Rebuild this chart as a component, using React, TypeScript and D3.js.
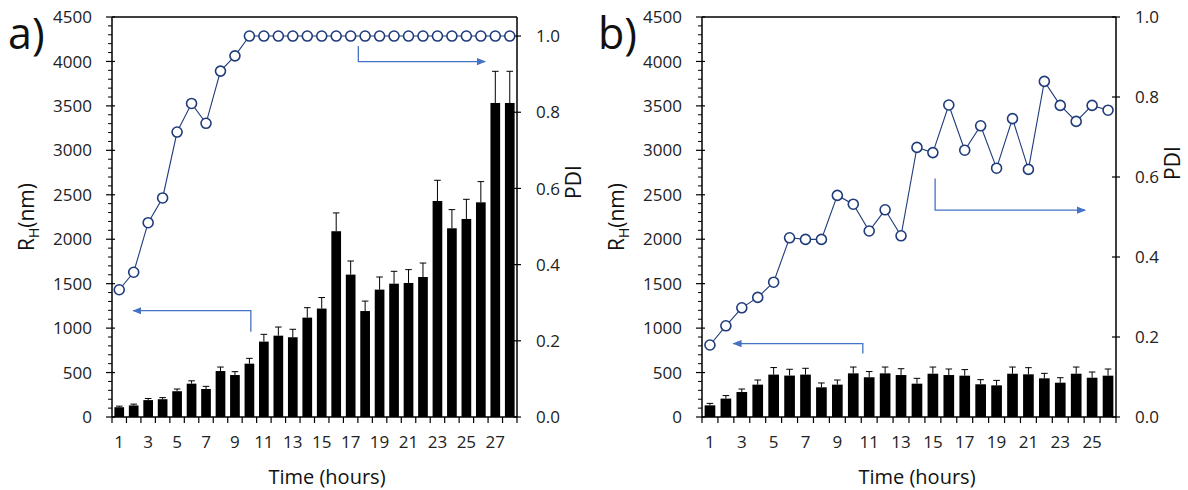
import React from "react";
import * as d3 from "d3";

// ---------- Data ----------
const hoursA = d3.range(1, 29);
const rhA = [110, 130, 190, 200, 290, 375, 315, 517, 472, 600, 848, 915, 897, 1118, 1220, 2090, 1602, 1192, 1433, 1500, 1508, 1575, 2430, 2123, 2228, 2415, 3533, 3533];
const errA = [12, 15, 18, 18, 25, 32, 30, 45, 38, 60, 82, 97, 90, 112, 124, 206, 153, 112, 142, 139, 150, 157, 233, 210, 221, 233, 356, 356];
const pdiA = [0.334, 0.38, 0.51, 0.575, 0.748, 0.823, 0.771, 0.908, 0.948, 1, 1, 1, 1, 1, 1, 1, 1, 1, 1, 1, 1, 1, 1, 1, 1, 1, 1, 1];

const hoursB = d3.range(1, 27);
const rhB = [131, 207, 281, 364, 477, 466, 477, 334, 364, 491, 447, 491, 472, 375, 487, 472, 465, 368, 356, 487, 480, 435, 386, 487, 442, 465];
const errB = [22, 34, 34, 52, 79, 71, 71, 49, 52, 71, 64, 71, 71, 60, 75, 68, 68, 52, 56, 75, 75, 56, 56, 75, 64, 75];
const pdiB = [0.18, 0.228, 0.273, 0.299, 0.337, 0.448, 0.444, 0.444, 0.554, 0.532, 0.465, 0.518, 0.453, 0.674, 0.661, 0.78, 0.667, 0.728, 0.622, 0.746, 0.619, 0.839, 0.779, 0.739, 0.779, 0.767];

const rhTicks = [0, 500, 1000, 1500, 2000, 2500, 3000, 3500, 4000, 4500];
const pdiTicks = [0, 0.2, 0.4, 0.6, 0.8, 1.0];

// annotation arrows (in data units): vertical at hour x from y0 to y1, then horizontal to hour xEnd
const arrowsA = [
  { axis: "rh", x: 10.1, y0: 960, y1: 1196, xEnd: 1.97 },
  { axis: "pdi", x: 17.53, y0: 0.974, y1: 0.933, xEnd: 26.3 },
];
const arrowsB = [
  { axis: "rh", x: 10.6, y0: 713, y1: 826, xEnd: 2.47 },
  { axis: "pdi", x: 15.14, y0: 0.596, y1: 0.517, xEnd: 24.56 },
];

const FONT = "'Open Sans', 'Noto Sans', sans-serif";
const NAVY = "#1f3b7a";
const ARROW = "#4472c4";

type PanelProps = {
  id: string;
  label: string;
  left: number;
  right: number;
  hours: number[];
  rh: number[];
  err: number[];
  pdi: number[];
  pdiMax: number;
  arrows: { axis: string; x: number; y0: number; y1: number; xEnd: number }[];
  labelX: number;
  pdiLabelY: number;
  timeX: number;
};

const TOP = 17;
const BOTTOM = 417;

function Panel(p: PanelProps) {
  const x = d3
    .scaleBand<number>()
    .domain(p.hours)
    .range([p.left, p.right])
    .paddingInner(0.33)
    .paddingOuter(0.165);
  const step = x.step();
  const xc = (h: number) => p.left + (h - 0.5) * step;
  const y = d3.scaleLinear().domain([0, 4500]).range([BOTTOM, TOP]);
  const yp = d3.scaleLinear().domain([0, p.pdiMax]).range([BOTTOM, TOP]);
  const minor = d3.range(0, 4501, 100).filter((v) => v % 500 !== 0);
  const line = d3
    .line<number>()
    .x((_, i) => xc(p.hours[i]))
    .y((d) => yp(d));
  const bw = x.bandwidth();

  return (
    <g>
      <defs>
        <marker id={`ah-${p.id}`} viewBox="0 0 10 10" refX="9" refY="5" markerWidth="7" markerHeight="7" orient="auto">
          <path d="M0,1 L10,5 L0,9 z" fill={ARROW} />
        </marker>
      </defs>
      {p.hours.map((h, i) => (
        <g key={h}>
          <line x1={xc(h)} x2={xc(h)} y1={y(p.rh[i])} y2={y(p.rh[i] + p.err[i])} stroke="#000" strokeWidth={1} />
          <line x1={xc(h) - 3.3} x2={xc(h) + 3.3} y1={y(p.rh[i] + p.err[i])} y2={y(p.rh[i] + p.err[i])} stroke="#000" strokeWidth={1} />
          <rect x={x(h)} y={y(p.rh[i])} width={bw} height={y(0) - y(p.rh[i])} fill="#000" />
        </g>
      ))}
      <line x1={p.left} x2={p.right} y1={TOP} y2={TOP} stroke="#000" strokeWidth={1.5} />
      <line x1={p.left} x2={p.right} y1={BOTTOM} y2={BOTTOM} stroke="#000" strokeWidth={1.5} />
      <line x1={p.left} x2={p.left} y1={TOP} y2={BOTTOM} stroke="#000" strokeWidth={1.5} />
      <line x1={p.right} x2={p.right} y1={TOP} y2={BOTTOM} stroke="#000" strokeWidth={1.5} />
      {minor.map((v) => (
        <line key={v} x1={p.left - 4} x2={p.left} y1={y(v)} y2={y(v)} stroke="#000" strokeWidth={1} />
      ))}
      {rhTicks.map((v) => (
        <g key={v}>
          <line x1={p.left - 6} x2={p.left + 3} y1={y(v)} y2={y(v)} stroke="#000" strokeWidth={1.2} />
          <text x={p.left - 20} y={y(v)} dy="0.36em" textAnchor="end" fontSize={17} fontFamily={FONT} fill="#222">
            {v}
          </text>
        </g>
      ))}
      {pdiTicks.map((v) => (
        <g key={v}>
          <line x1={p.right - 4} x2={p.right + 4} y1={yp(v)} y2={yp(v)} stroke="#000" strokeWidth={1.2} />
          <text x={p.right + 19} y={yp(v)} dy="0.36em" textAnchor="start" fontSize={17} fontFamily={FONT} fill="#222">
            {v.toFixed(1)}
          </text>
        </g>
      ))}
      {d3.range(0, p.hours.length + 1).map((i) => (
        <line key={i} x1={p.left + i * step} x2={p.left + i * step} y1={BOTTOM} y2={BOTTOM + 6} stroke="#000" strokeWidth={1.2} />
      ))}
      {p.hours
        .filter((h) => h % 2 === 1)
        .map((h) => (
          <text key={h} x={xc(h)} y={448} textAnchor="middle" fontSize={17} fontFamily={FONT} fill="#222">
            {h}
          </text>
        ))}
      <path d={line(p.pdi) || ""} fill="none" stroke={NAVY} strokeWidth={1.1} />
      {p.pdi.map((v, i) => (
        <circle key={i} cx={xc(p.hours[i])} cy={yp(v)} r={5} fill="#fff" stroke={NAVY} strokeWidth={1.6} />
      ))}
      {p.arrows.map((a, i) => {
        const sc = a.axis === "rh" ? y : yp;
        const d = `M${xc(a.x)},${sc(a.y0)} L${xc(a.x)},${sc(a.y1)} L${xc(a.xEnd)},${sc(a.y1)}`;
        return <path key={i} d={d} fill="none" stroke={ARROW} strokeWidth={1.3} markerEnd={`url(#ah-${p.id})`} />;
      })}
      <text x={p.labelX} y={49} fontSize={43} fontFamily={FONT} fill="#111">
        {p.label}
      </text>
      <text
        transform={`translate(${p.left - 78},${217}) rotate(-90)`}
        textAnchor="middle"
        fontSize={21}
        fontFamily={FONT}
        fill="#111"
      >
        R<tspan fontSize={14} dy={5}>H</tspan>
        <tspan dy={-5}>(nm)</tspan>
      </text>
      <text
        transform={`translate(${p.right + 64},${p.pdiLabelY}) rotate(-90)`}
        textAnchor="middle"
        fontSize={21}
        fontFamily={FONT}
        fill="#111"
      >
        PDI
      </text>
      <text x={p.timeX} y={484} textAnchor="middle" fontSize={20} fontFamily={FONT} fill="#111">
        Time (hours)
      </text>
    </g>
  );
}

export default function App() {
  return (
    <svg width={1188} height={490} style={{ position: "absolute", left: 0, top: 0, background: "#fff" }}>
      <rect width={1188} height={490} fill="#fff" />
      <Panel
        id="a"
        label="a)"
        left={112}
        right={517}
        hours={hoursA}
        rh={rhA}
        err={errA}
        pdi={pdiA}
        pdiMax={1.05}
        arrows={arrowsA}
        labelX={8}
        pdiLabelY={182}
        timeX={327}
      />
      <Panel
        id="b"
        label="b)"
        left={702}
        right={1116}
        hours={hoursB}
        rh={rhB}
        err={errB}
        pdi={pdiB}
        pdiMax={1.0}
        arrows={arrowsB}
        labelX={598}
        pdiLabelY={163}
        timeX={917}
      />
    </svg>
  );
}
